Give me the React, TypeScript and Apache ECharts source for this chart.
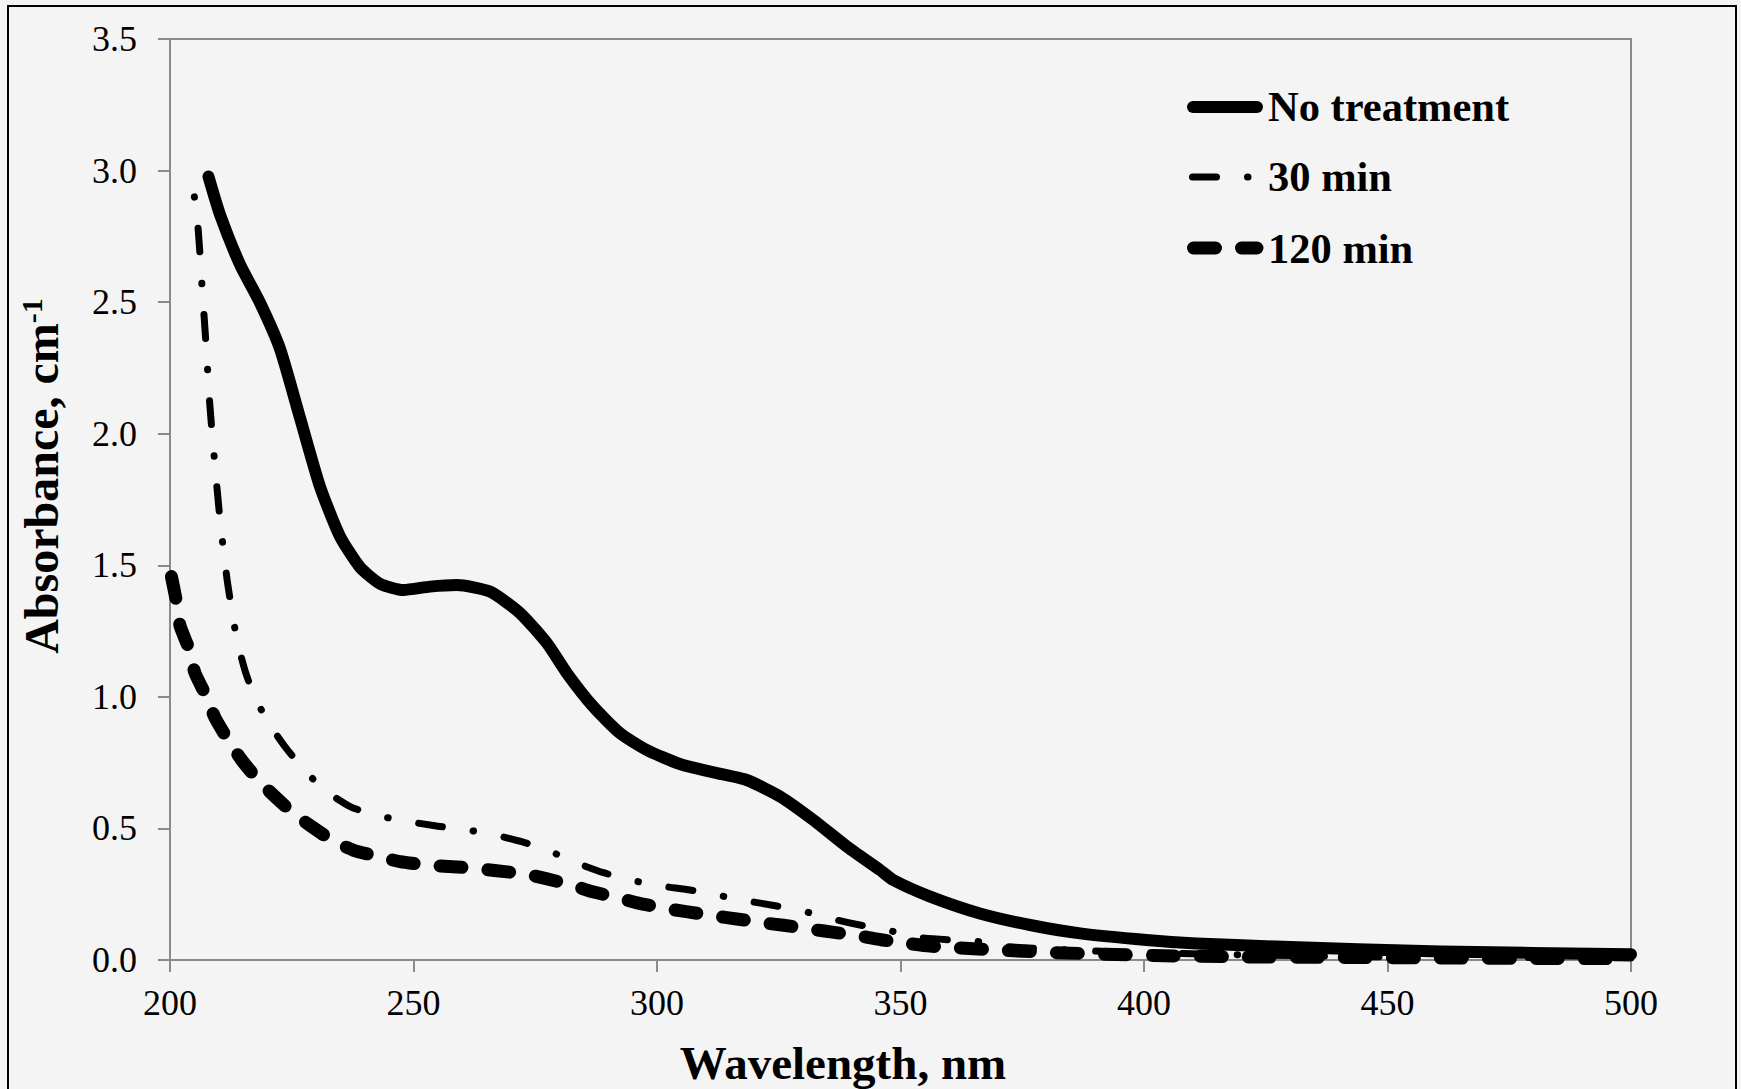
import React, { useEffect, useRef } from "react";
import * as echarts from "echarts";

// ---- data ----
const xTicks = [200, 250, 300, 350, 400, 450, 500];
const yTicks = [0, 0.5, 1.0, 1.5, 2.0, 2.5, 3.0, 3.5];

const seriesNames = ["No treatment", "30 min", "120 min"];

const noTreatmentWl = [
  207.9, 210.3, 214.4, 218.5, 222.6, 226.7, 230.8, 234.9, 239.0, 243.1, 247.9, 253.4, 258.9, 265.7,
  271.9, 277.4, 281.5, 286.9, 292.4, 297.9, 304.7, 311.6, 318.4, 325.3, 332.1, 339.0, 345.8, 348.5,
  356.1, 366.3, 376.6, 386.9, 400.5, 410.8, 427.0, 461.0, 500.0,
];
const noTreatmentAbs = [
  2.977, 2.831, 2.642, 2.497, 2.322, 2.06, 1.799, 1.61, 1.493, 1.43, 1.406, 1.419, 1.425, 1.40,
  1.318, 1.204, 1.09, 0.963, 0.862, 0.798, 0.745, 0.713, 0.684, 0.621, 0.532, 0.431, 0.342, 0.304,
  0.241, 0.177, 0.133, 0.101, 0.076, 0.063, 0.051, 0.032, 0.022,
];

const min30Wl = [
  205.0, 205.8, 206.6, 207.4, 208.2, 209.2, 210.3, 211.8, 213.7, 215.4, 217.1, 220.0, 223.6, 227.0,
  231.5, 237.0, 242.1, 248.1, 254.4, 259.9, 266.1, 272.2, 277.4, 283.2, 289.0, 294.5, 300.6, 306.8,
  312.3, 318.4, 324.6, 330.4, 336.2, 342.4, 347.8, 353.8, 360.2, 365.6, 372.0, 380, 390, 400, 420,
  440, 460, 480, 500,
];
const min30Abs = [
  2.90, 2.773, 2.555, 2.337, 2.104, 1.886, 1.668, 1.435, 1.221, 1.10, 1.013, 0.908, 0.811, 0.735,
  0.649, 0.583, 0.551, 0.529, 0.51, 0.497, 0.478, 0.45, 0.418, 0.371, 0.332, 0.304, 0.282, 0.266,
  0.247, 0.225, 0.205, 0.184, 0.155, 0.13, 0.111, 0.086, 0.076, 0.071, 0.051, 0.042, 0.034, 0.028,
  0.02, 0.014, 0.011, 0.009, 0.008,
];

const min120Wl = [
  200.3, 201.4, 202.1, 204.1, 205.1, 207.5, 209.2, 212.0, 214.7, 218.1, 221.2, 225.3, 229.1, 233.2,
  237.6, 242.8, 247.2, 252.7, 257.2, 262.6, 267.1, 272.9, 277.0, 282.5, 286.6, 292.1, 296.2, 301.6,
  306, 312, 316, 322, 326, 332, 336, 342, 346, 352, 356, 362, 372, 382, 392, 402, 420, 440, 460,
  480, 500,
];
const min120Abs = [
  1.457, 1.355, 1.268, 1.173, 1.092, 1.0, 0.922, 0.834, 0.76, 0.684, 0.627, 0.558, 0.507, 0.456,
  0.418, 0.393, 0.374, 0.361, 0.355, 0.349, 0.339, 0.327, 0.31, 0.285, 0.26, 0.236, 0.216, 0.196,
  0.184, 0.167, 0.157, 0.141, 0.132, 0.116, 0.106, 0.09, 0.077, 0.062, 0.053, 0.046, 0.036, 0.028,
  0.022, 0.017, 0.012, 0.01, 0.008, 0.006, 0.005,
];

const xTitle = "Wavelength, nm";
const yTitle = "Absorbance, cm";
const yTitleSup = "-1";

// ---- styling ----
const FONT = '"Liberation Serif", "Times New Roman", serif';
const AXIS_GRAY = "#8a8a8a";
const BG = "#f4f4f4";

const zip = (xs: number[], ys: number[]) => xs.map((x, i) => [x, ys[i]]);

export default function App() {
  const ref = useRef<HTMLDivElement>(null);

  useEffect(() => {
    if (!ref.current) return;
    const chart = echarts.init(ref.current, null, { renderer: "svg" });

    const legendRows = [
      { y: 107, textY: 106, dash: null as number[] | null, width: 12, x1: 1193, x2: 1257 },
      { y: 177, textY: 176, dash: [24, 31, 0.5, 31], width: 7, x1: 1192.5, x2: 1263 },
      { y: 248, textY: 248, dash: [22, 26], width: 13, x1: 1193.5, x2: 1257 },
    ];

    const graphic: any[] = [
      {
        type: "rect",
        shape: { x: 8, y: 6, width: 1728, height: 1100 },
        style: { fill: "none", stroke: "#000", lineWidth: 2 },
        silent: true,
        z: 100,
      },
      {
        type: "text",
        x: 843,
        y: 1063,
        style: {
          text: xTitle,
          font: `bold 47px ${FONT}`,
          fill: "#000",
          align: "center",
          verticalAlign: "middle",
        },
      },
      {
        type: "text",
        x: 41,
        y: 476,
        rotation: Math.PI / 2,
        style: {
          text: `{m|${yTitle}}{s|${yTitleSup}}`,
          align: "center",
          verticalAlign: "middle",
          rich: {
            m: { fontFamily: FONT, fontWeight: "bold", fontSize: 48, color: "#000" },
            s: {
              fontFamily: FONT,
              fontWeight: "bold",
              fontSize: 30,
              color: "#000",
              padding: [0, 0, 20, 0],
            },
          },
        },
      },
    ];

    legendRows.forEach((r, i) => {
      graphic.push({
        type: "line",
        shape: { x1: r.x1, y1: r.y, x2: r.x2, y2: r.y },
        style: {
          stroke: "#000",
          lineWidth: r.width,
          lineCap: "round",
          lineDash: r.dash || undefined,
        },
      });
      graphic.push({
        type: "text",
        x: 1268,
        y: r.textY,
        style: {
          text: seriesNames[i],
          font: `bold 42.5px ${FONT}`,
          fill: "#000",
          align: "left",
          verticalAlign: "middle",
        },
      });
    });

    chart.setOption({
      animation: false,
      backgroundColor: BG,
      textStyle: { fontFamily: FONT },
      grid: {
        left: 170,
        right: 110,
        top: 39,
        bottom: 129,
        containLabel: false,
        show: true,
        borderColor: AXIS_GRAY,
        borderWidth: 2,
        backgroundColor: "transparent",
      },
      xAxis: {
        type: "value",
        min: xTicks[0],
        max: xTicks[xTicks.length - 1],
        interval: 50,
        axisLine: { show: true, onZero: false, lineStyle: { color: AXIS_GRAY, width: 2 } },
        axisTick: { show: true, inside: false, length: 12, lineStyle: { color: AXIS_GRAY, width: 2 } },
        splitLine: { show: false },
        axisLabel: {
          fontFamily: FONT,
          fontSize: 36,
          color: "#000",
          margin: 25,
          formatter: (v: number) => String(v),
        },
      },
      yAxis: {
        type: "value",
        min: yTicks[0],
        max: yTicks[yTicks.length - 1],
        interval: 0.5,
        axisLine: { show: true, lineStyle: { color: AXIS_GRAY, width: 2 } },
        axisTick: { show: true, inside: false, length: 12, lineStyle: { color: AXIS_GRAY, width: 2 } },
        splitLine: { show: false },
        axisLabel: {
          fontFamily: FONT,
          fontSize: 36,
          color: "#000",
          margin: 33,
          formatter: (v: number) => v.toFixed(1),
        },
      },
      series: [
        {
          name: seriesNames[0],
          type: "line",
          data: zip(noTreatmentWl, noTreatmentAbs),
          showSymbol: false,
          symbol: "none",
          smooth: 0.2,
          lineStyle: { color: "#000", width: 12, cap: "round", join: "round" },
        },
        {
          name: seriesNames[1],
          type: "line",
          data: zip(min30Wl, min30Abs),
          showSymbol: false,
          symbol: "none",
          smooth: 0.2,
          lineStyle: {
            color: "#000",
            width: 7,
            type: [24, 31, 0.5, 31],
            dashOffset: 55,
            cap: "round",
            join: "round",
          },
        },
        {
          name: seriesNames[2],
          type: "line",
          data: zip(min120Wl, min120Abs),
          showSymbol: false,
          symbol: "none",
          smooth: 0.2,
          lineStyle: { color: "#000", width: 13, type: [22, 26], cap: "round", join: "round" },
        },
      ],
      graphic,
    });

    return () => chart.dispose();
  }, []);

  return (
    <div
      ref={ref}
      style={{ position: "absolute", left: 0, top: 0, width: 1741, height: 1089 }}
    />
  );
}
